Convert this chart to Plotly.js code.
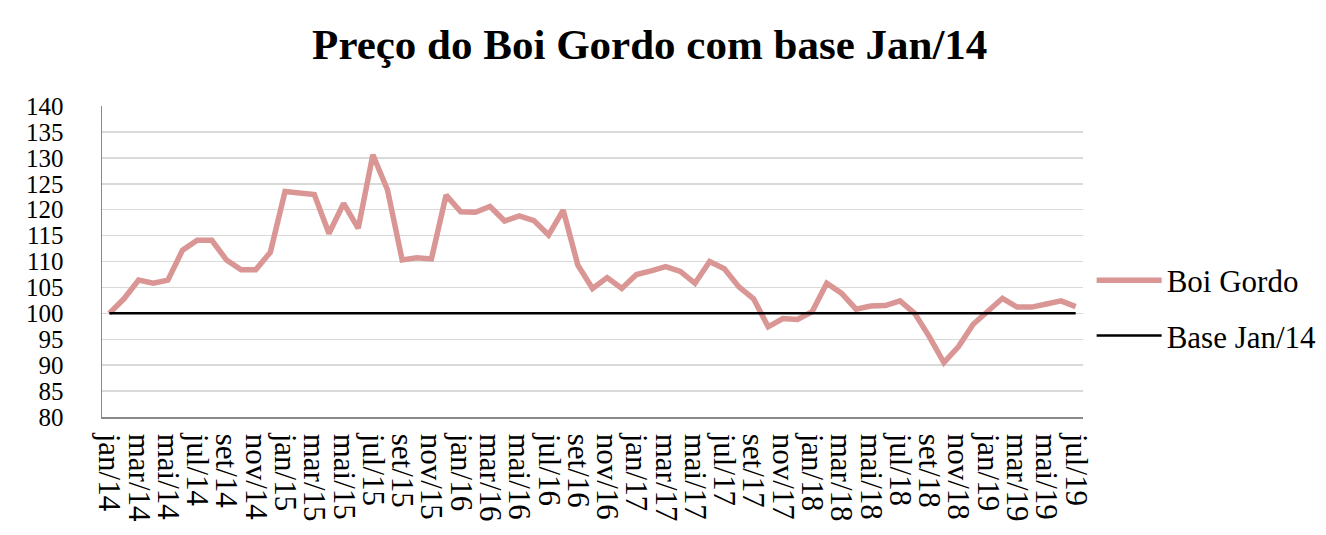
<!DOCTYPE html>
<html>
<head>
<meta charset="utf-8">
<script src="https://cdn.plot.ly/plotly-3.0.1.min.js"></script>
<style>html,body{margin:0;padding:0;background:#fff;}#chart{width:1326px;height:535px;}</style>
</head>
<body>
<div id="chart"></div>
<script>
const months = ["jan","fev","mar","abr","mai","jun","jul","ago","set","out","nov","dez"];
const years = ["14","15","16","17","18","19"];
const categories = [];
years.forEach(function(y){ months.forEach(function(m){ categories.push(m + "/" + y); }); });
categories.splice(67);

const boiGordo = [
  100.0, 102.8, 106.4, 105.8, 106.4, 112.2, 114.1, 114.1, 110.3, 108.4, 108.4, 111.8,
  123.5, 123.1, 122.9, 115.4, 121.2, 116.4, 130.6, 123.8, 110.3, 110.7, 110.5, 122.8,
  119.6, 119.5, 120.6, 117.8, 118.8, 117.9, 115.1, 119.9, 109.3, 104.8, 106.9, 104.8,
  107.5, 108.2, 109.0, 108.1, 105.8, 110.0, 108.6, 105.1, 102.8, 97.4, 99.0, 98.8,
  100.3, 105.8, 103.9, 100.8, 101.4, 101.5, 102.4, 100.0, 95.5, 90.5, 93.6, 97.9,
  100.4, 102.9, 101.2, 101.2, 101.8, 102.4, 101.3
];
const baseValue = 100;
const baseSeries = categories.map(function(){ return baseValue; });
const tickLabels = categories.filter(function(c, i){ return i % 2 === 0; });
const yTicks = [80, 85, 90, 95, 100, 105, 110, 115, 120, 125, 130, 135, 140];

const font = "Liberation Serif, Times New Roman, serif";

const traces = [
  {x: categories, y: boiGordo, type: "scatter", mode: "lines", name: "Boi Gordo",
   legendgroup: "a", line: {color: "#d99694", width: 5.5}},
  {x: categories, y: baseSeries, type: "scatter", mode: "lines", name: "Base Jan/14",
   legendgroup: "b", line: {color: "#000000", width: 2.5}}
];

const layout = {
  width: 1326, height: 535,
  paper_bgcolor: "#ffffff", plot_bgcolor: "#ffffff",
  margin: {l: 102, r: 243, t: 106, b: 118, autoexpand: false},
  title: {text: "<b>Preço do Boi Gordo com base Jan/14</b>", font: {family: font, size: 43, color: "#000"},
          x: 0.49, xanchor: "center", y: 0.918, yanchor: "middle"},
  xaxis: {type: "category", range: [-0.5, 66.5], tickmode: "array", tickvals: tickLabels, ticktext: tickLabels,
          tickangle: 90, tickfont: {family: font, size: 31, color: "#000"}, ticklabelstandoff: 9,
          showgrid: false, zeroline: false, showline: true, linecolor: "#898989", linewidth: 1.5,
          ticks: "", fixedrange: true, automargin: false},
  yaxis: {range: [80, 140], tickmode: "array", tickvals: yTicks, ticktext: yTicks.map(String),
          tickfont: {family: font, size: 25, color: "#000"}, showgrid: true, gridcolor: "#d9d9d9", gridwidth: 1.5,
          zeroline: false, showline: true, linecolor: "#898989", linewidth: 1.5, ticks: "", ticklabelstandoff: 32,
          automargin: false},
  showlegend: true,
  legend: {x: 1.0088, xanchor: "left", y: 0.35, yanchor: "middle", font: {family: font, size: 31, color: "#000"},
           tracegroupgap: 12, traceorder: "grouped", itemwidth: 65, bgcolor: "rgba(0,0,0,0)"}
};

Plotly.newPlot("chart", traces, layout, {displayModeBar: false, staticPlot: true});
</script>
</body>
</html>
